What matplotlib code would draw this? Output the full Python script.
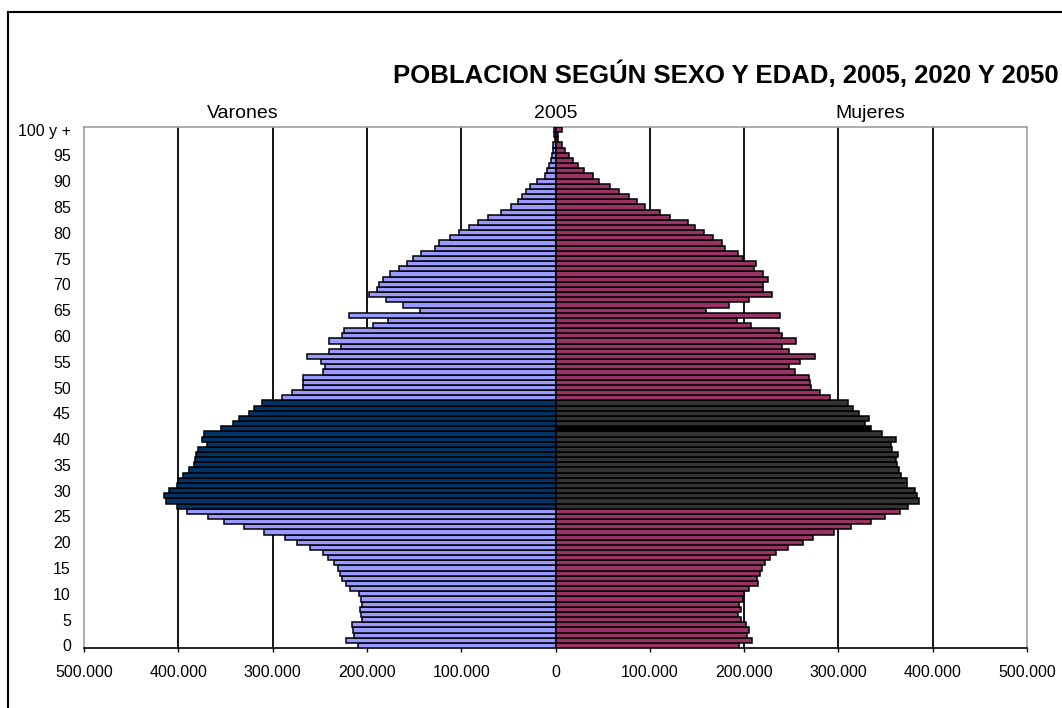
import matplotlib
matplotlib.use("Agg")
import matplotlib.pyplot as plt
from matplotlib.lines import Line2D
from matplotlib.ticker import FuncFormatter, FixedLocator

plt.rcParams['font.family'] = ['Liberation Sans', 'DejaVu Sans']

# ---------------- data ----------------
ages = list(range(0, 101))
varones_miles = [209, 222, 214, 215, 216, 205, 206, 207, 205, 206,
                 208, 218, 222, 226, 228, 231, 235, 241, 247, 260,
                 274, 287, 309, 330, 352, 368, 391, 401, 413, 415,
                 410, 401, 400, 395, 389, 383, 382, 381, 379, 370,
                 375, 373, 355, 342, 336, 325, 320, 311, 290, 279,
                 268, 268, 268, 247, 244, 249, 263, 240, 227, 240,
                 226, 224, 194, 178, 219, 144, 162, 180, 198, 189,
                 187, 183, 176, 166, 158, 151, 143, 128, 124, 112,
                 102, 92, 82, 72, 58, 47, 40, 36, 31, 27,
                 20, 11, 8.5, 7, 5, 4, 3, 2.5, 1, 2,
                 2]
mujeres_miles = [195, 208, 203, 205, 202, 197, 194, 197, 195, 199,
                 200, 205, 215, 214, 217, 219, 222, 227, 234, 247,
                 262, 273, 295, 313, 335, 349, 365, 374, 385, 383,
                 381, 373, 373, 366, 364, 362, 361, 363, 357, 356,
                 361, 346, 335, 328, 332, 322, 316, 310, 291, 281,
                 271, 270, 269, 254, 248, 259, 275, 248, 240, 255,
                 240, 237, 207, 192, 238, 160, 184, 205, 230, 220,
                 220, 225, 220, 210, 213, 199, 194, 180, 177, 167,
                 157, 148, 141, 121, 111, 95, 86, 78, 67, 58,
                 46, 40, 30, 24, 19, 14, 10, 7, 3, 3,
                 7]
varones = [v * 1000 for v in varones_miles]
mujeres = [v * 1000 for v in mujeres_miles]

highlight_ages = list(range(27, 48))   # generación destacada
black_age = 42

y_ticks = list(range(0, 101, 5))
y_labels = [str(a) for a in y_ticks[:-1]] + ["100 y +"]
x_ticks = [-500000, -400000, -300000, -200000, -100000, 0,
           100000, 200000, 300000, 400000, 500000]

title = "POBLACION SEGÚN SEXO Y EDAD, 2005, 2020 Y 2050"

# ---------------- figure ----------------
W, H = 1062, 708
fig = plt.figure(figsize=(W / 100, H / 100), dpi=100)
fig.patch.set_facecolor("white")

left, right, top, bottom = 84, 1027, 127, 648
ax = fig.add_axes([left / W, 1 - bottom / H, (right - left) / W, (bottom - top) / H])

m_colors = ["#003366" if a in highlight_ages else "#9999FF" for a in ages]
f_colors = [("#000000" if a == black_age else "#333333") if a in highlight_ages
            else "#993366" for a in ages]

ax.barh(ages, [-v for v in varones], height=1.0, color=m_colors,
        edgecolor="black", linewidth=1.1, zorder=3)
ax.barh(ages, mujeres, height=1.0, color=f_colors,
        edgecolor="black", linewidth=1.1, zorder=3)

ax.set_xlim(-500000, 500000)
ax.set_ylim(-0.5, 100.5)

# vertical gridlines
for xv in x_ticks[1:-1]:
    if xv != 0:
        ax.axvline(xv, color="black", linewidth=1.3, zorder=1)

ax.xaxis.set_major_locator(FixedLocator(x_ticks))
ax.xaxis.set_major_formatter(FuncFormatter(lambda v, p: f"{abs(int(v)):,}".replace(",", ".")))
ax.set_yticks(y_ticks)
ax.set_yticklabels(y_labels)

ax.tick_params(axis="x", direction="out", length=3, width=1, color="black",
               pad=9, labelsize=11.5)
ax.tick_params(axis="y", length=0, pad=9.5, labelsize=11.5)

for side in ["top", "right", "left"]:
    ax.spines[side].set_color("#a0a0a0")
    ax.spines[side].set_linewidth(1.2)
ax.spines["bottom"].set_color("black")
ax.spines["bottom"].set_linewidth(1.2)

# header labels
fig.text(243 / W, 1 - 114 / H, "Varones", ha="center", va="center", fontsize=14)
fig.text(556 / W, 1 - 114 / H, "2005", ha="center", va="center", fontsize=14)
fig.text(870 / W, 1 - 114 / H, "Mujeres", ha="center", va="center", fontsize=14)

fig.text(1059 / W, 1 - 74 / H, title, ha="right", va="center",
         fontsize=18.5, fontweight="bold")

# outer frame (top and left edges of the chart area)
fig.add_artist(Line2D([8 / W, 8 / W], [0, 1 - 12 / H], color="black",
                      linewidth=1.5, transform=fig.transFigure))
fig.add_artist(Line2D([8 / W, 1], [1 - 12 / H, 1 - 12 / H], color="black",
                      linewidth=1.5, transform=fig.transFigure))

fig.savefig("out.png", dpi=100)
